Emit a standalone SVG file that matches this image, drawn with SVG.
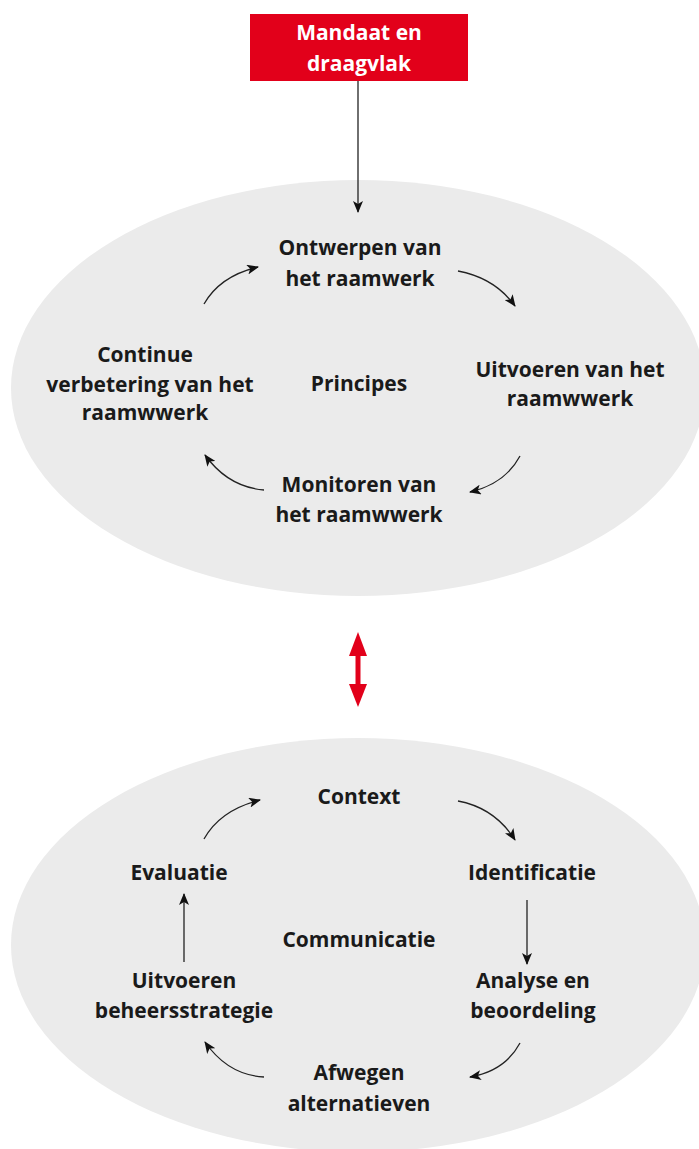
<svg xmlns="http://www.w3.org/2000/svg" width="699" height="1149" viewBox="0 0 699 1149">
<style>
.lbl{font-family:"Open Sans","Noto Sans",sans-serif;font-weight:700;font-size:21px;fill:#1a1a1a;text-anchor:middle}
.wl{font-family:"Open Sans","Noto Sans",sans-serif;font-weight:700;font-size:21px;fill:#ffffff;text-anchor:middle}
.bg{fill:#ebebeb}
.con{fill:none;stroke:#222;stroke-width:1.3}
</style>
<defs>
<marker id="ah" viewBox="0 0 12 10" refX="11" refY="5" markerWidth="12" markerHeight="10" markerUnits="userSpaceOnUse" orient="auto">
<path d="M0,0 L12,5 L0,10 L3,5 z" fill="#111"/>
</marker>
</defs>
<rect width="699" height="1149" fill="#ffffff"/>
<g id="ellipse-top"><ellipse class="bg" cx="358" cy="388" rx="347" ry="208"/></g>
<g id="ellipse-bottom"><ellipse class="bg" cx="358" cy="945" rx="347" ry="207"/></g>
<g id="mandaat">
<rect x="250" y="14" width="218" height="67" fill="#e2001a"/>
<text class="wl" x="359" y="40">Mandaat en</text>
<text class="wl" x="359" y="71">draagvlak</text>
</g>
<g id="ontwerpen"><text class="lbl" x="360" y="255">Ontwerpen van</text><text class="lbl" x="360" y="286">het raamwerk</text></g>
<g id="continue"><text class="lbl" x="145" y="362">Continue</text><text class="lbl" x="150" y="392">verbetering van het</text><text class="lbl" x="145" y="420">raamwwerk</text></g>
<g id="principes"><text class="lbl" x="359" y="391">Principes</text></g>
<g id="uitvoeren-top"><text class="lbl" x="570" y="377">Uitvoeren van het</text><text class="lbl" x="570" y="406">raamwwerk</text></g>
<g id="monitoren"><text class="lbl" x="359" y="492">Monitoren van</text><text class="lbl" x="359" y="522">het raamwwerk</text></g>
<g id="context"><text class="lbl" x="359" y="804">Context</text></g>
<g id="identificatie"><text class="lbl" x="532" y="880">Identificatie</text></g>
<g id="evaluatie"><text class="lbl" x="179" y="880">Evaluatie</text></g>
<g id="communicatie"><text class="lbl" x="359" y="947">Communicatie</text></g>
<g id="uitvoeren-bottom"><text class="lbl" x="184" y="988">Uitvoeren</text><text class="lbl" x="184" y="1018">beheersstrategie</text></g>
<g id="analyse"><text class="lbl" x="533" y="988">Analyse en</text><text class="lbl" x="533" y="1018">beoordeling</text></g>
<g id="afwegen"><text class="lbl" x="359" y="1080">Afwegen</text><text class="lbl" x="359" y="1111">alternatieven</text></g>
<g id="connectors">
<line class="con" x1="358" y1="81" x2="358" y2="212" marker-end="url(#ah)"/>
<path class="con" d="M204,304 Q220,276 258,267" marker-end="url(#ah)"/>
<path class="con" d="M458,271 Q495,278 515,306" marker-end="url(#ah)"/>
<path class="con" d="M520,456 Q505,484 470,492" marker-end="url(#ah)"/>
<path class="con" d="M264,490 Q228,487 205,455" marker-end="url(#ah)"/>
<path class="con" d="M204,839 Q220,810 260,800" marker-end="url(#ah)"/>
<path class="con" d="M458,801 Q495,808 515,840" marker-end="url(#ah)"/>
<line class="con" x1="527" y1="900" x2="527" y2="964" marker-end="url(#ah)"/>
<line class="con" x1="184" y1="962" x2="184" y2="894" marker-end="url(#ah)"/>
<path class="con" d="M520,1043 Q505,1071 470,1077" marker-end="url(#ah)"/>
<path class="con" d="M264,1077 Q228,1075 205,1042" marker-end="url(#ah)"/>
<g id="red-double-arrow">
<line x1="358" y1="650" x2="358" y2="690" stroke="#e2001a" stroke-width="5"/>
<path d="M358,632 L367,656 L349,656 z" fill="#e2001a"/>
<path d="M358,707 L367,684 L349,684 z" fill="#e2001a"/>
</g>
</g>
</svg>
